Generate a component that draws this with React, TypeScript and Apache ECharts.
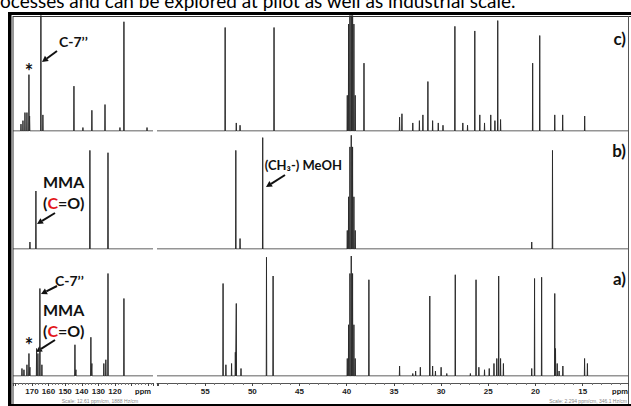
import React, { useEffect, useRef } from "react";
import * as echarts from "echarts";

// ---- data: [ppm, intensity (% of panel height)] ----
const cLeftPeaks: [number, number][] = [
  [176.6, 6], [175.4, 9], [174.2, 16], [173.0, 16], [171.8, 49], [171.4, 13],
  [164.6, 125], [163.4, 14], [144.7, 39], [139.3, 3], [133.9, 18], [126.0, 23],
  [117.0, 3], [114.6, 95], [100.7, 3],
];
const cRightPeaks: [number, number][] = [
  [52.88, 90], [51.7, 7], [51.3, 5], [47.7, 90], [38.17, 59],
  [34.4, 12], [34.15, 15], [33.0, 7], [32.3, 9], [31.93, 14], [31.4, 43],
  [30.9, 9], [30.3, 7], [29.8, 5], [28.54, 91], [27.7, 7], [27.2, 5],
  [26.43, 87], [25.9, 14], [25.4, 7], [24.74, 14], [24.3, 9], [24.0, 96],
  [23.7, 10], [20.3, 59], [19.55, 83], [17.96, 14], [17.12, 14], [14.79, 13],
];
const bLeftPeaks: [number, number][] = [
  [171.2, 6], [167.6, 50], [135.1, 85], [124.2, 83],
];
const bRightPeaks: [number, number][] = [
  [51.75, 85], [51.3, 9], [48.9, 96], [20.4, 6], [18.2, 85],
];
const aLeftPeaks: [number, number][] = [
  [176.0, 6], [174.8, 5], [173.0, 9], [171.8, 18], [171.2, 7], [167.2, 22],
  [166.4, 18], [165.2, 70], [164.0, 9], [144.1, 25], [143.5, 5], [134.5, 31],
  [133.9, 10], [126.7, 10], [125.5, 13], [124.2, 82], [114.6, 62],
];
const aRightPeaks: [number, number][] = [
  [53.1, 74], [52.8, 9], [52.2, 10], [51.8, 19], [51.7, 58], [51.2, 6],
  [48.5, 95], [47.8, 80], [37.65, 77], [34.4, 8], [33.0, 2], [32.7, 4],
  [32.2, 7], [31.2, 64], [30.9, 8], [30.6, 4], [30.0, 7], [29.4, 2],
  [28.5, 81], [26.9, 2], [26.3, 77], [26.0, 7], [25.4, 5], [24.9, 6],
  [24.4, 10], [24.1, 14], [23.9, 80], [23.7, 14], [23.4, 10], [20.4, 6],
  [20.1, 78], [19.35, 79], [17.96, 66], [17.88, 22], [17.7, 10], [17.5, 4],
  [17.1, 8], [14.8, 14], [14.5, 10],
];
// DMSO-d6 septet
const dmsoLines = [39.94, 39.8, 39.66, 39.52, 39.38, 39.24, 39.1];
const dmsoC = [31, 93, 186, 217, 186, 93, 31];
const dmsoB = [16, 45, 88, 98, 88, 45, 16];
const dmsoA = [14, 41, 82, 96, 82, 41, 14];

const leftTickLabels = [170, 160, 150, 140, 130, 120];
const rightTickLabels = [55, 50, 45, 40, 35, 30, 25, 20, 15];
const leftRange = [97.1, 181.4];
const rightRange = [10.2, 60.1];

function withDmso(peaks: [number, number][], h: number[]): [number, number][] {
  return peaks.concat(dmsoLines.map((p, i) => [p, h[i]] as [number, number]));
}

function buildLine(peaks: [number, number][], min: number, max: number, d: number) {
  const sorted = [...peaks].sort((a, b) => b[0] - a[0]);
  const out: number[][] = [[max, 0]];
  for (const [p, h] of sorted) out.push([p + d, 0], [p, h], [p - d, 0]);
  out.push([min, 0]);
  return out;
}

function arrow(x1: number, y1: number, x2: number, y2: number) {
  const dx = x2 - x1, dy = y2 - y1;
  const L = Math.hypot(dx, dy);
  const ux = dx / L, uy = dy / L;
  const hl = 6, hw = 3.2;
  const bx = x2 - ux * hl, by = y2 - uy * hl;
  return [
    { type: "line", shape: { x1, y1, x2: bx, y2: by }, style: { stroke: "#111", lineWidth: 2 } },
    {
      type: "polygon",
      shape: { points: [[x2, y2], [bx - uy * hw, by + ux * hw], [bx + uy * hw, by - ux * hw]] },
      style: { fill: "#111" },
    },
  ];
}

const FONT = "Lato, 'Open Sans', sans-serif";

export default function App() {
  const ref = useRef<HTMLDivElement>(null);
  useEffect(() => {
    if (!ref.current) return;
    const chart = echarts.init(ref.current, null, { renderer: "svg" });
    const rows = [
      { top: 16, height: 115 },
      { top: 133, height: 116 },
      { top: 251, height: 125 },
    ];
    const cols = [
      { left: 13, width: 140, range: leftRange, labels: leftTickLabels, d: 0.15 },
      { left: 157, width: 471, range: rightRange, labels: rightTickLabels, d: 0.025 },
    ];
    const spectra = [
      [cLeftPeaks, withDmso(cRightPeaks, dmsoC)],
      [bLeftPeaks, withDmso(bRightPeaks, dmsoB)],
      [aLeftPeaks, withDmso(aRightPeaks, dmsoA)],
    ];
    const grid: any[] = [], xAxis: any[] = [], yAxis: any[] = [], series: any[] = [];
    let idx = 0;
    rows.forEach((r, ri) => {
      cols.forEach((c, ci) => {
        grid.push({ left: c.left, width: c.width, top: r.top, height: r.height });
        const showAxis = ri === 2;
        xAxis.push({
          type: "value",
          gridIndex: idx,
          inverse: true,
          min: c.range[0],
          max: c.range[1],
          splitNumber: ci === 0 ? 8 : 10,
          show: showAxis,
          offset: 7,
          axisLine: { onZero: false, lineStyle: { color: "#555", width: 1 } },
          axisTick: { length: 3, lineStyle: { color: "#444" } },
          minorTick: { show: true, splitNumber: 5, length: 2, lineStyle: { color: "#777" } },
          splitLine: { show: false },
          axisLabel: {
            margin: 4,
            fontSize: 8,
            fontWeight: "bold",
            fontFamily: "Liberation Sans, Arial, sans-serif",
            color: "#222",
            formatter: (v: number) => {
              const rv = Math.round(v);
              return Math.abs(v - rv) < 1e-6 && c.labels.includes(rv) ? String(rv) : "";
            },
          },
        });
        yAxis.push({ type: "value", gridIndex: idx, min: 0, max: 100, show: false });
        series.push({
          type: "line",
          xAxisIndex: idx,
          yAxisIndex: idx,
          data: buildLine(spectra[ri][ci], c.range[0], c.range[1], c.d),
          symbol: "none",
          silent: true,
          clip: true,
          lineStyle: { color: "#2b2b2b", width: 1 },
        });
        idx++;
      });
    });

    const bold = (text: string, x: number, y: number, size: number, align = "left", va = "middle") => ({
      type: "text",
      x,
      y,
      silent: true,
      style: { text, fill: "#111", fontSize: size, fontWeight: "bold", fontFamily: FONT, align, verticalAlign: va },
    });
    const cO = (x: number, y: number) => ({
      type: "text",
      x,
      y,
      silent: true,
      style: {
        text: "({r|C}=O)",
        fill: "#111",
        fontSize: 16,
        fontWeight: "bold",
        fontFamily: FONT,
        align: "left",
        verticalAlign: "middle",
        rich: { r: { fill: "#e3171b", fontSize: 16, fontWeight: "bold", fontFamily: FONT } },
      },
    });

    const graphic: any[] = [
      // header text line (cut off, as in the source figure)
      {
        type: "text",
        x: 0,
        y: 0,
        silent: true,
        style: {
          text: "ocesses and can be explored at pilot as well as industrial scale.",
          fill: "#000",
          fontSize: 19,
          fontFamily: FONT,
          verticalAlign: "middle",
        },
      },
      // frame
      { type: "rect", shape: { x: 8, y: 12, width: 3.5, height: 394 }, style: { fill: "#000" } },
      { type: "rect", shape: { x: 8, y: 12, width: 623, height: 3 }, style: { fill: "#000" } },
      { type: "line", shape: { x1: 13, y1: 16.5, x2: 631, y2: 16.5 }, style: { stroke: "#333", lineWidth: 1 } },
      { type: "line", shape: { x1: 13, y1: 16, x2: 13, y2: 406 }, style: { stroke: "#333", lineWidth: 1 } },
      { type: "line", shape: { x1: 628.5, y1: 16, x2: 628.5, y2: 406 }, style: { stroke: "#555", lineWidth: 1 } },
      { type: "rect", shape: { x: 8, y: 404, width: 623, height: 2 }, style: { fill: "#000" } },
      // panel labels
      bold("c)", 626, 38, 17, "right"),
      bold("b)", 626, 150, 17, "right"),
      bold("a)", 626, 278, 17, "right"),
      // axis extras
      bold("ppm", 143, 391, 8, "center"),
      bold("ppm", 620, 391, 8, "center"),
      {
        type: "text", x: 100, y: 401, silent: true,
        style: { text: "Scale: 12.61 ppm/cm, 1888 Hz/cm", fill: "#888", fontSize: 5, fontFamily: "Liberation Sans, Arial", align: "center", verticalAlign: "middle" },
      },
      {
        type: "text", x: 627, y: 401, silent: true,
        style: { text: "Scale: 2.294 ppm/cm, 346.1 Hz/cm", fill: "#888", fontSize: 5, fontFamily: "Liberation Sans, Arial", align: "right", verticalAlign: "middle" },
      },
      // panel c annotations
      bold("*", 29, 61, 20, "center", "top"),
      bold("C-7\u2019\u2019", 59, 41, 14),
      ...arrow(57, 51, 42, 62),
      // panel b annotations
      bold("MMA", 43, 181, 16),
      cO(43, 202),
      ...arrow(55, 213, 37, 224),
      bold("(CH\u2083-) MeOH", 342, 165, 13, "right"),
      ...arrow(285, 175, 266, 187),
      // panel a annotations
      bold("C-7\u2019\u2019", 55, 280, 14),
      ...arrow(57, 286, 41, 294),
      bold("MMA", 43, 309, 16),
      cO(43, 330),
      ...arrow(55, 340, 36, 352),
      bold("*", 29, 335, 20, "center", "top"),
    ];

    chart.setOption({
      animation: false,
      backgroundColor: "#fff",
      grid,
      xAxis,
      yAxis,
      series,
      graphic,
    });
    return () => chart.dispose();
  }, []);
  return <div ref={ref} style={{ position: "absolute", left: 0, top: 0, width: 631, height: 406 }} />;
}
